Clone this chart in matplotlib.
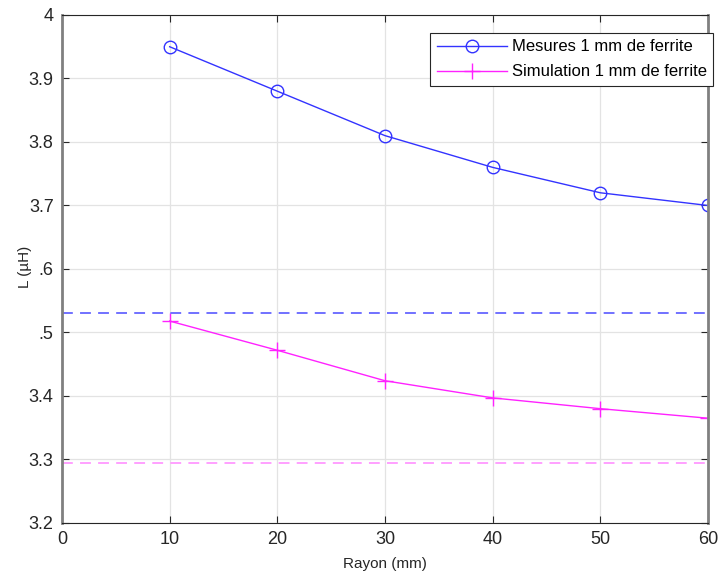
import matplotlib.pyplot as plt
import numpy as np

plt.rcParams['font.family'] = ['Liberation Sans', 'DejaVu Sans']

rayon = [10, 20, 30, 40, 50, 60]
mesures = [3.95, 3.88, 3.81, 3.76, 3.72, 3.70]
simulation = [3.518, 3.472, 3.424, 3.397, 3.380, 3.365]
ref_mesure = 3.53
ref_simulation = 3.294

yticks = [3.2, 3.3, 3.4, 3.5, 3.6, 3.7, 3.8, 3.9, 4.0]
# the y label hides the "3" of 3.6 and 3.5 in the original
ytick_labels = ['3.2', '3.3', '3.4', '.5', '.6', '3.7', '3.8', '3.9', '4']

fig = plt.figure(figsize=(7.19, 5.85), dpi=100)
ax = fig.add_axes([0.0862, 0.106, 0.8985, 0.8684])

ax.plot(rayon, mesures, color='#3333ff', marker='o', markersize=9,
        markerfacecolor='none', markeredgewidth=1.0, linewidth=1.0,
        label='Mesures 1 mm de ferrite')
ax.plot(rayon, simulation, color='#ff22ff', marker='+', markersize=11,
        markeredgewidth=1.0, linewidth=1.0,
        label='Simulation 1 mm de ferrite')
ax.axhline(ref_mesure, color='#6666ff', linestyle=(0, (6, 4)), linewidth=1.3)
ax.axhline(ref_simulation, color='#ff99ff', linestyle=(0, (6, 4)), linewidth=1.3)

ax.set_xlim(0, 60)
ax.set_ylim(3.2, 4.0)
ax.set_xticks(np.arange(0, 61, 10))
ax.set_yticks(yticks)
ax.set_yticklabels(ytick_labels)
ax.grid(True, color='#e3e3e3', linewidth=0.9)
ax.set_axisbelow(True)

ax.tick_params(direction='in', top=True, right=True, labelsize=13,
               length=5, width=0.8, color='#262626', labelcolor='#262626', pad=6)
for s in ax.spines.values():
    s.set_color('#262626')
    s.set_linewidth(0.8)
ax.spines['left'].set_color('#808080')
ax.spines['left'].set_linewidth(2)
ax.spines['right'].set_color('#808080')
ax.spines['right'].set_linewidth(2)

ax.set_xlabel('Rayon (mm)', fontsize=11, color='#262626', labelpad=6)
ax.set_ylabel('L (µH)', fontsize=11, color='#262626')
ax.yaxis.set_label_coords(-0.046, 0.504)

leg = ax.legend(loc='upper right', bbox_to_anchor=(1.008, 0.965), fontsize=12,
                fancybox=False, framealpha=1, edgecolor='#262626',
                handlelength=4.2, borderpad=0.4, labelspacing=0.6,
                handletextpad=0.3, borderaxespad=0)
leg.get_frame().set_linewidth(0.8)

fig.savefig('out.png', dpi=100)
